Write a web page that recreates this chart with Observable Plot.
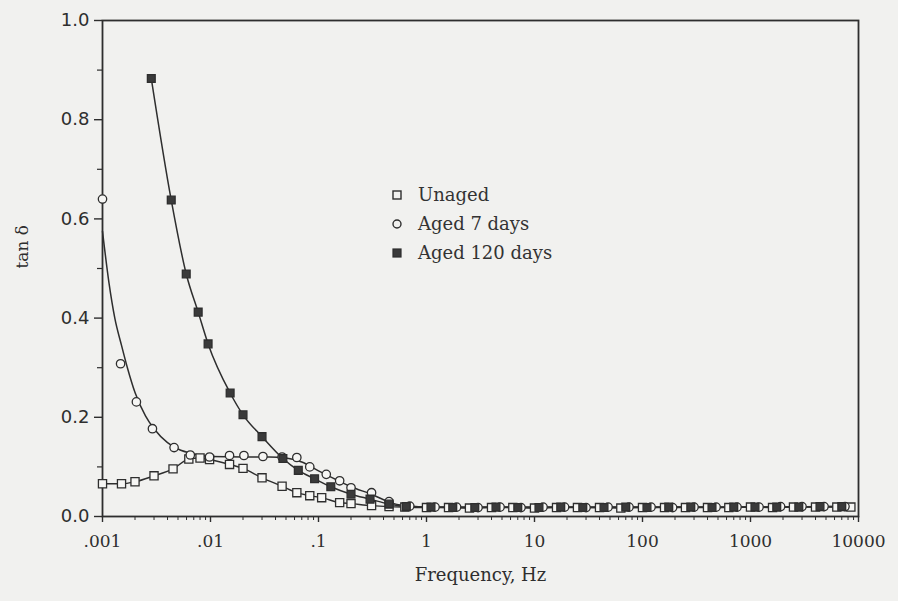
<!DOCTYPE html>
<html>
<head>
<meta charset="utf-8">
<script src="https://cdn.jsdelivr.net/npm/d3@7"></script>
<script src="https://cdn.jsdelivr.net/npm/@observablehq/plot@0.6"></script>
<style>
  html, body { margin: 0; padding: 0; background: #f1f1ef; }
  #wrap { position: relative; width: 898px; height: 601px; }
  #legend { position: absolute; left: 391px; top: 180px; font-family: "DejaVu Serif", serif; font-size: 18px; color: #333; line-height: 29px; }
  #legend div { display: flex; align-items: center; }
  #legend svg { margin-right: 15px; }
</style>
</head>
<body>
<div id="wrap"><div id="legend"></div></div>
<script>
// ---- data ----
const seriesNames = ["Unaged", "Aged 7 days", "Aged 120 days"];

const unagedFreq = [0.001, 0.0015, 0.002, 0.003, 0.0045, 0.0063, 0.008, 0.0098, 0.015, 0.02, 0.03, 0.046, 0.063, 0.083, 0.107, 0.157, 0.2, 0.31, 0.45, 0.63,
  1, 1.6, 2.5, 4, 6.3, 10, 16, 25, 40, 63, 100, 160, 250, 400, 630, 1000, 1600, 2500, 4000, 6300, 8500];
const unagedTan = [0.066, 0.066, 0.070, 0.082, 0.096, 0.116, 0.118, 0.115, 0.105, 0.097, 0.078, 0.061, 0.048, 0.042, 0.038, 0.028, 0.026, 0.022, 0.020, 0.019,
  0.018, 0.018, 0.017, 0.018, 0.018, 0.017, 0.018, 0.018, 0.018, 0.017, 0.018, 0.018, 0.018, 0.018, 0.018, 0.019, 0.018, 0.019, 0.019, 0.019, 0.019];

const aged7Freq = [0.001, 0.00147, 0.00206, 0.0029, 0.0046, 0.0065, 0.0098, 0.015, 0.0204, 0.0306, 0.046, 0.063, 0.083, 0.118, 0.157, 0.2, 0.31, 0.45, 0.7,
  1.2, 1.9, 3, 4.8, 7.5, 12, 19, 30, 48, 75, 120, 190, 300, 480, 750, 1200, 1900, 3000, 4800, 7500];
const aged7Tan = [0.64, 0.308, 0.231, 0.177, 0.139, 0.124, 0.120, 0.123, 0.123, 0.121, 0.120, 0.119, 0.100, 0.085, 0.072, 0.058, 0.048, 0.030, 0.021,
  0.019, 0.019, 0.018, 0.019, 0.018, 0.019, 0.019, 0.018, 0.019, 0.019, 0.019, 0.018, 0.019, 0.019, 0.019, 0.019, 0.020, 0.020, 0.020, 0.020];

const aged120Freq = [0.00283, 0.00433, 0.00596, 0.00769, 0.0095, 0.0152, 0.02, 0.03, 0.0468, 0.065, 0.092, 0.13, 0.2, 0.3, 0.45, 0.65,
  1.1, 1.75, 2.8, 4.4, 7, 11, 17.5, 28, 44, 70, 110, 175, 280, 440, 700, 1100, 1750, 2800, 4400, 7000];
const aged120Tan = [0.883, 0.638, 0.489, 0.412, 0.348, 0.249, 0.205, 0.161, 0.117, 0.093, 0.076, 0.060, 0.045, 0.035, 0.025, 0.020,
  0.019, 0.018, 0.018, 0.019, 0.018, 0.018, 0.019, 0.018, 0.018, 0.019, 0.018, 0.019, 0.019, 0.018, 0.019, 0.019, 0.019, 0.019, 0.020, 0.020];

// fitted curve drawn through the "Aged 7 days" data
const fit7Freq = [0.001, 0.00115, 0.0013, 0.0015, 0.0017, 0.002, 0.0025, 0.003, 0.004, 0.005, 0.007, 0.01, 0.02, 0.035, 0.05, 0.07, 0.1, 0.15, 0.2, 0.3, 0.5, 0.7, 1, 10, 100, 1000, 7500];
const fit7Tan  = [0.575, 0.47, 0.40, 0.345, 0.30, 0.25, 0.203, 0.177, 0.149, 0.136, 0.126, 0.121, 0.120, 0.120, 0.118, 0.110, 0.092, 0.073, 0.060, 0.046, 0.026, 0.021, 0.019, 0.019, 0.019, 0.019, 0.020];

const xTickValues = [0.001, 0.01, 0.1, 1, 10, 100, 1000, 10000];
const xTickLabels = [".001", ".01", ".1", "1", "10", "100", "1000", "10000"];
const yTickValues = [0, 0.2, 0.4, 0.6, 0.8, 1.0];
const yMinorTicks = [0.1, 0.3, 0.5, 0.7, 0.9];

// ---- build tables ----
const zip = (fx, ty) => fx.map((f, i) => ({f, t: ty[i]}));
const unaged = zip(unagedFreq, unagedTan);
const aged7 = zip(aged7Freq, aged7Tan);
const aged120 = zip(aged120Freq, aged120Tan);
const fit7 = zip(fit7Freq, fit7Tan);

const xMinor = [];
for (let e = -3; e < 4; e++) for (let m = 2; m <= 9; m++) xMinor.push(m * Math.pow(10, e));

const ink = "#2e2e2e";
const serif = "DejaVu Serif, serif";

const chart = Plot.plot({
  width: 898,
  height: 601,
  marginLeft: 102,
  marginRight: 40,
  marginTop: 20,
  marginBottom: 85,
  style: {background: "transparent", color: ink},
  x: {type: "log", domain: [0.001, 10000]},
  y: {domain: [0, 1]},
  marks: [
    Plot.frame({stroke: ink, strokeWidth: 1.8}),
    Plot.axisY({ticks: yTickValues, tickSize: 8, tickPadding: 5, tickFormat: d3.format(".1f"),
      fontFamily: "DejaVu Sans, sans-serif", fontSize: 18, label: null, stroke: ink, strokeWidth: 1.4}),
    Plot.axisY({ticks: yMinorTicks, tickSize: 5, tickFormat: () => "", label: null, stroke: ink, strokeWidth: 1.2}),
    Plot.axisX({ticks: xMinor, tickSize: 4, tickFormat: () => "", label: null, stroke: ink, strokeWidth: 1}),
    Plot.axisX({ticks: xTickValues, tickSize: 6, tickPadding: 12,
      tickFormat: d => xTickLabels[xTickValues.indexOf(d)] ?? "",
      fontFamily: serif, fontSize: 17, label: null, stroke: ink, strokeWidth: 1.4}),
    Plot.text(["Frequency, Hz"], {frameAnchor: "bottom", dy: 64, fontFamily: serif, fontSize: 18, fill: ink}),
    Plot.text(["tan δ"], {frameAnchor: "left", dx: -80, rotate: -90, fontFamily: serif, fontSize: 17, fill: ink}),
    // curves
    Plot.line(fit7, {x: "f", y: "t", curve: "monotone-x", stroke: ink, strokeWidth: 1.5}),
    Plot.line(unaged, {x: "f", y: "t", curve: "monotone-x", stroke: ink, strokeWidth: 1.4}),
    Plot.line(aged120, {x: "f", y: "t", curve: "monotone-x", stroke: ink, strokeWidth: 1.5}),
    // markers
    Plot.dot(unaged, {x: "f", y: "t", symbol: "square", r: 4.6, fill: "#f6f6f4", stroke: ink, strokeWidth: 1.3}),
    Plot.dot(aged7, {x: "f", y: "t", symbol: "circle", r: 4.2, fill: "#f6f6f4", stroke: ink, strokeWidth: 1.3}),
    Plot.dot(aged120, {x: "f", y: "t", symbol: "square", r: 4.4, fill: "#3a3a3a", stroke: ink, strokeWidth: 1.3})
  ]
});
document.getElementById("wrap").prepend(chart);

// legend
const legendSymbols = [
  `<rect x="2" y="2" width="8" height="8" fill="none" stroke="${ink}" stroke-width="1.4"/>`,
  `<circle cx="6" cy="6" r="4" fill="none" stroke="${ink}" stroke-width="1.4"/>`,
  `<rect x="2" y="2" width="8" height="8" fill="#3a3a3a" stroke="${ink}" stroke-width="1.2"/>`
];
const legend = document.getElementById("legend");
seriesNames.forEach((name, i) => {
  const row = document.createElement("div");
  row.innerHTML = `<svg width="12" height="12">${legendSymbols[i]}</svg><span>${name}</span>`;
  legend.appendChild(row);
});
</script>
</body>
</html>
